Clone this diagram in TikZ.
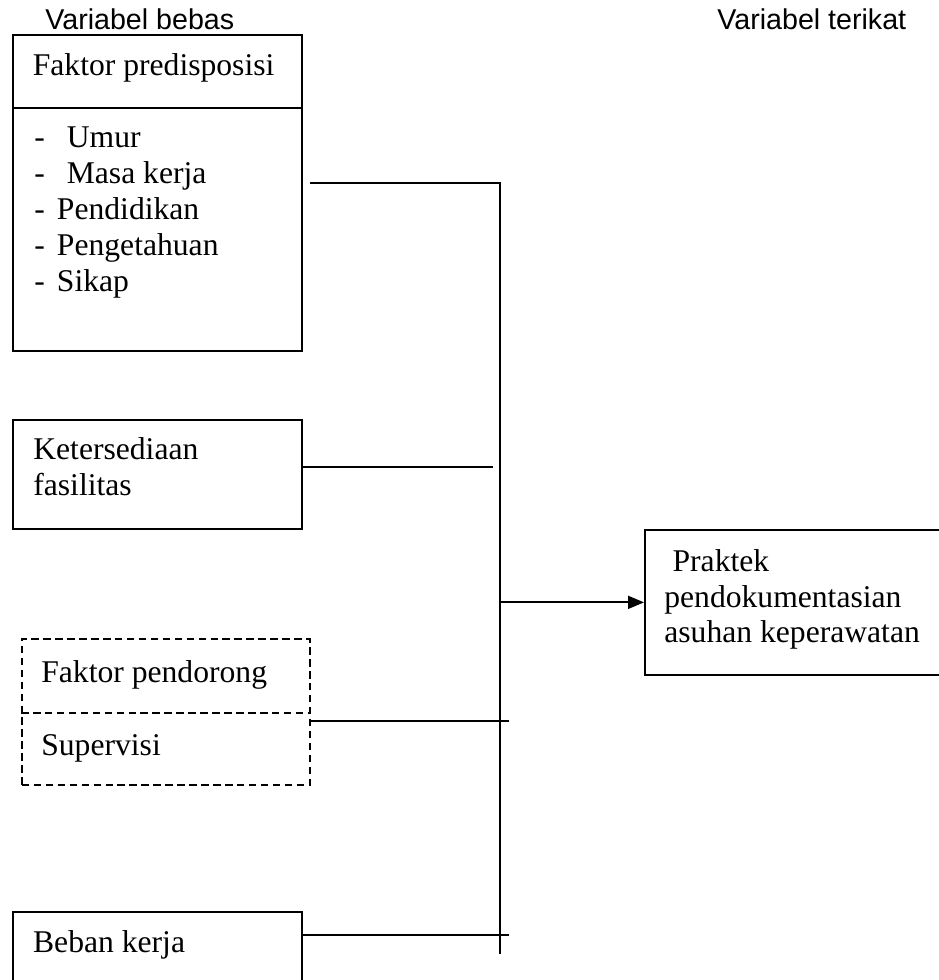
\documentclass[tikz,border=0pt]{standalone}
\usepackage{fontspec}
\setmainfont{Liberation Serif}
\newfontfamily\arialfont{Liberation Sans}
\usepackage{tikz}
\usetikzlibrary{arrows.meta}
\newcommand\tnr{\fontsize{18}{20.41}\selectfont}
\newcommand\hdr{\arialfont\fontsize{16.3}{19}\selectfont}

\begin{document}
\begin{tikzpicture}[x=0.02cm, y=-0.02cm]
\useasboundingbox (0,0) rectangle (938,980);

\begin{scope}[every node/.style={draw, line width=1pt, inner sep=0pt, anchor=north west}]
    \node[minimum width=5.78cm, minimum height=1.46cm] (PH) at (12,34) {};
    \node[minimum width=5.78cm, minimum height=4.86cm] (PB) at (12,107) {};
    \node[minimum width=5.78cm, minimum height=2.18cm] (K) at (12,419) {};
    \node[minimum width=5.76cm, minimum height=2.92cm, dash pattern=on 4.3pt off 2.5pt] (D) at (21,638) {};
    \node[minimum width=5.78cm, minimum height=1.6cm] (B) at (12,911) {};
    \node[minimum width=6cm, minimum height=2.9cm] (PR) at (644,529) {};
\end{scope}

\begin{scope}[every node/.style={inner sep=0pt, anchor=north west, align=left, font=\tnr}]
    \node[anchor=base west, font=\hdr] (vb) at (45,29.5) {Variabel bebas};
    \node[anchor=base west, font=\hdr] (vt) at (717,29.5) {Variabel terikat};
    \node (ph) at (32.5,49.8) {\strut Faktor predisposisi};
    \node (pb) at (34,122.3) {\strut-\hspace{12.5pt}Umur\\-\hspace{12.5pt}Masa kerja\\-\hspace{6.9pt}Pendidikan\\-\hspace{6.9pt}Pengetahuan\\-\hspace{6.9pt}Sikap};
    \node (k) at (33,434.3) {\strut Ketersediaan\\fasilitas};
    \node (d) at (41,656.8) {\strut Faktor pendorong};
    \node (s) at (41,729.8) {\strut Supervisi};
    \node (pr) at (664,545.8) {\strut\hspace{4.7pt}Praktek\\pendokumentasian\\asuhan keperawatan};
    \node (b) at (32.8,926.8) {\strut Beban kerja};
\end{scope}

\coordinate (mid) at (0,713);
\coordinate (top) at (500,183);
\coordinate (bot) at (500,954);
\coordinate (kend) at (493,467);
\coordinate (send) at (509,721);
\coordinate (bend) at (509,935);

\begin{scope}[>={Triangle[length=0.32cm, width=0.26cm]}, line width=1pt]
    \draw[dash pattern=on 4.3pt off 2.5pt] (D.west |- mid) -- (D.east |- mid);
    \draw[shorten <=0.14cm] (PB.east |- top) -- (top) -- (bot);
    \draw (K.east |- kend) -- (kend);
    \draw (D.east |- send) -- (send);
    \draw (B.east |- bend) -- (bend);
    \draw[->] (top |- PR.west) -- (PR.west);
\end{scope}
\end{tikzpicture}
\end{document}
